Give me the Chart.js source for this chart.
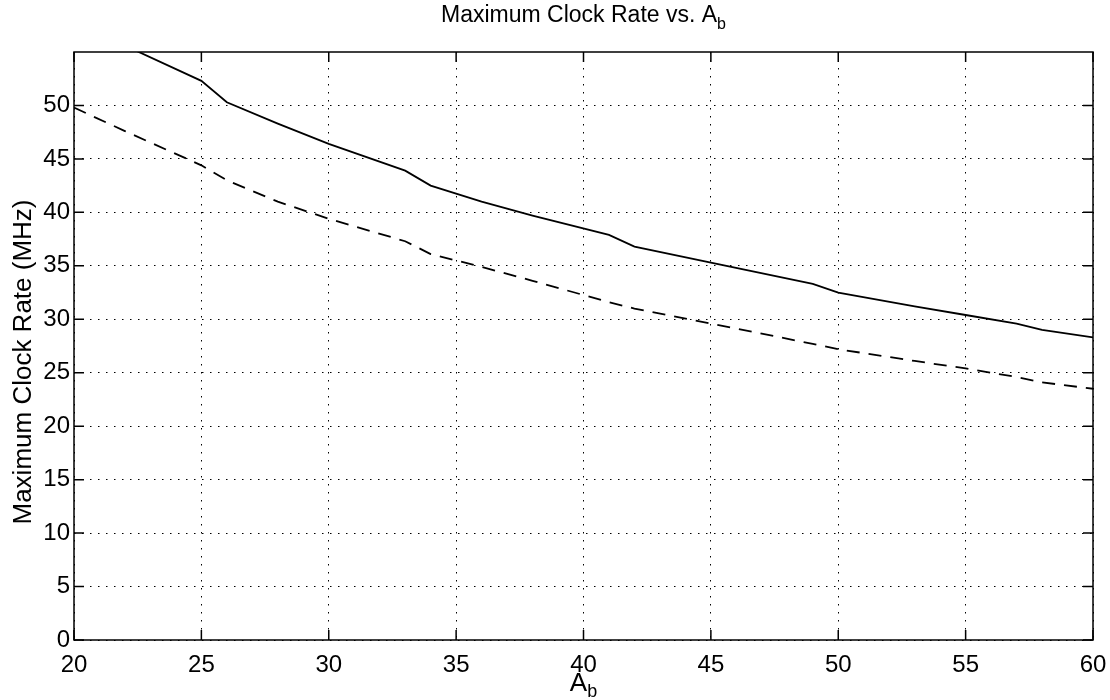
<!doctype html>
<html>
  <head>
    <title>Maximum Clock Rate vs. Ab</title>
    <script src="https://cdn.jsdelivr.net/npm/chart.js@4.4.0/dist/chart.umd.min.js"></script>
    <style>
    body { margin: 0; background: #fff; }
    </style>
  </head>

  <body>
    <div style="width:1110px; height:700px; position:relative">
      <canvas id="canvas"></canvas>
    </div>

    <script>
      // A_b values
      const abValues = [20, 22, 25, 26, 28, 30, 33, 34, 36, 38, 41, 42, 45, 49, 50, 53, 55, 57, 58, 60];
      // solid curve (MHz)
      const solidRate = [57.8, 55.6, 52.3, 50.3, 48.3, 46.4, 43.9, 42.5, 41.0, 39.7, 37.9, 36.8, 35.3, 33.3, 32.5, 31.2, 30.4, 29.6, 29.0, 28.3];
      // dashed curve (MHz)
      const dashedRate = [49.8, 47.6, 44.4, 43.0, 41.0, 39.4, 37.3, 36.1, 34.9, 33.6, 31.6, 31.0, 29.6, 27.7, 27.2, 26.1, 25.4, 24.6, 24.1, 23.5];

      const xTicks = [20, 25, 30, 35, 40, 45, 50, 55, 60];
      const yTicks = [0, 5, 10, 15, 20, 25, 30, 35, 40, 45, 50];

      const FONT = "'Liberation Sans', Arial, Helvetica, sans-serif";

      function toPoints(ys) {
        return abValues.map((x, i) => ({x: x, y: ys[i]}));
      }

      // text with a subscript, centred on cx
      function drawSub(ctx, main, sub, cx, y, size, subSize, drop) {
        ctx.font = size + 'px ' + FONT;
        const w1 = ctx.measureText(main).width;
        ctx.font = subSize + 'px ' + FONT;
        const w2 = ctx.measureText(sub).width;
        const x0 = cx - (w1 + w2) / 2;
        ctx.textAlign = 'left';
        ctx.textBaseline = 'alphabetic';
        ctx.font = size + 'px ' + FONT;
        ctx.fillText(main, x0, y);
        ctx.font = subSize + 'px ' + FONT;
        ctx.fillText(sub, x0 + w1, y + drop);
      }

      const framePlugin = {
        id: 'frame',
        afterDraw(chart) {
          const ctx = chart.ctx;
          const a = chart.chartArea;
          const xs = chart.scales.x, ys = chart.scales.y;
          ctx.save();
          ctx.strokeStyle = '#000';
          ctx.fillStyle = '#000';
          ctx.lineWidth = 1.5;
          ctx.strokeRect(a.left, a.top, a.right - a.left, a.bottom - a.top);

          // inward tick marks on all four sides
          const len = 10;
          ctx.beginPath();
          xTicks.forEach(v => {
            const px = xs.getPixelForValue(v);
            ctx.moveTo(px, a.bottom); ctx.lineTo(px, a.bottom - len);
            ctx.moveTo(px, a.top); ctx.lineTo(px, a.top + len);
          });
          yTicks.forEach(v => {
            const py = ys.getPixelForValue(v);
            ctx.moveTo(a.left, py); ctx.lineTo(a.left + len, py);
            ctx.moveTo(a.right, py); ctx.lineTo(a.right - len, py);
          });
          ctx.stroke();

          const cx = (a.left + a.right) / 2;
          drawSub(ctx, 'Maximum Clock Rate vs. A', 'b', cx, 22, 23, 16, 7);
          drawSub(ctx, 'A', 'b', cx, 691, 26, 18, 6);

          ctx.translate(24, 362);
          ctx.rotate(-Math.PI / 2);
          ctx.font = '26px ' + FONT;
          ctx.textAlign = 'center';
          ctx.textBaseline = 'middle';
          ctx.fillText('Maximum Clock Rate (MHz)', 0, 0);
          ctx.restore();
        }
      };

      const config = {
        type: 'line',
        data: {
          datasets: [{
            data: toPoints(solidRate),
            borderColor: '#000',
            borderWidth: 1.8,
            pointRadius: 0,
            fill: false,
            tension: 0
          }, {
            data: toPoints(dashedRate),
            borderColor: '#000',
            borderWidth: 1.8,
            borderDash: [13, 9],
            pointRadius: 0,
            fill: false,
            tension: 0
          }]
        },
        options: {
          responsive: true,
          maintainAspectRatio: false,
          animation: false,
          layout: { padding: { top: 52, right: 17, left: 0, bottom: 0 } },
          plugins: {
            legend: { display: false },
            title: { display: false },
            tooltip: { enabled: false }
          },
          scales: {
            x: {
              type: 'linear',
              min: 20,
              max: 60,
              afterFit: s => { s.height = 60; s.paddingLeft = 0; s.paddingRight = 0; },
              afterBuildTicks: s => { s.ticks = xTicks.map(v => ({value: v})); },
              ticks: { color: '#000', font: { family: FONT, size: 24 }, padding: 11, maxRotation: 0 },
              grid: { color: '#000', lineWidth: 1, drawTicks: false },
              border: { display: false, dash: [1.5, 6.5] }
            },
            y: {
              min: 0,
              max: 55,
              afterFit: s => { s.width = 74; s.paddingTop = 0; s.paddingBottom = 0; },
              afterBuildTicks: s => { s.ticks = yTicks.map(v => ({value: v})); },
              ticks: { color: '#000', font: { family: FONT, size: 24 }, padding: 4 },
              grid: { color: '#000', lineWidth: 1, drawTicks: false },
              border: { display: false, dash: [1.5, 6.5] }
            }
          }
        },
        plugins: [framePlugin]
      };

      window.onload = function() {
        let ctx = document.getElementById('canvas').getContext('2d');
        window.myLine = new Chart(ctx, config);
      };
    </script>
  </body>
</html>
